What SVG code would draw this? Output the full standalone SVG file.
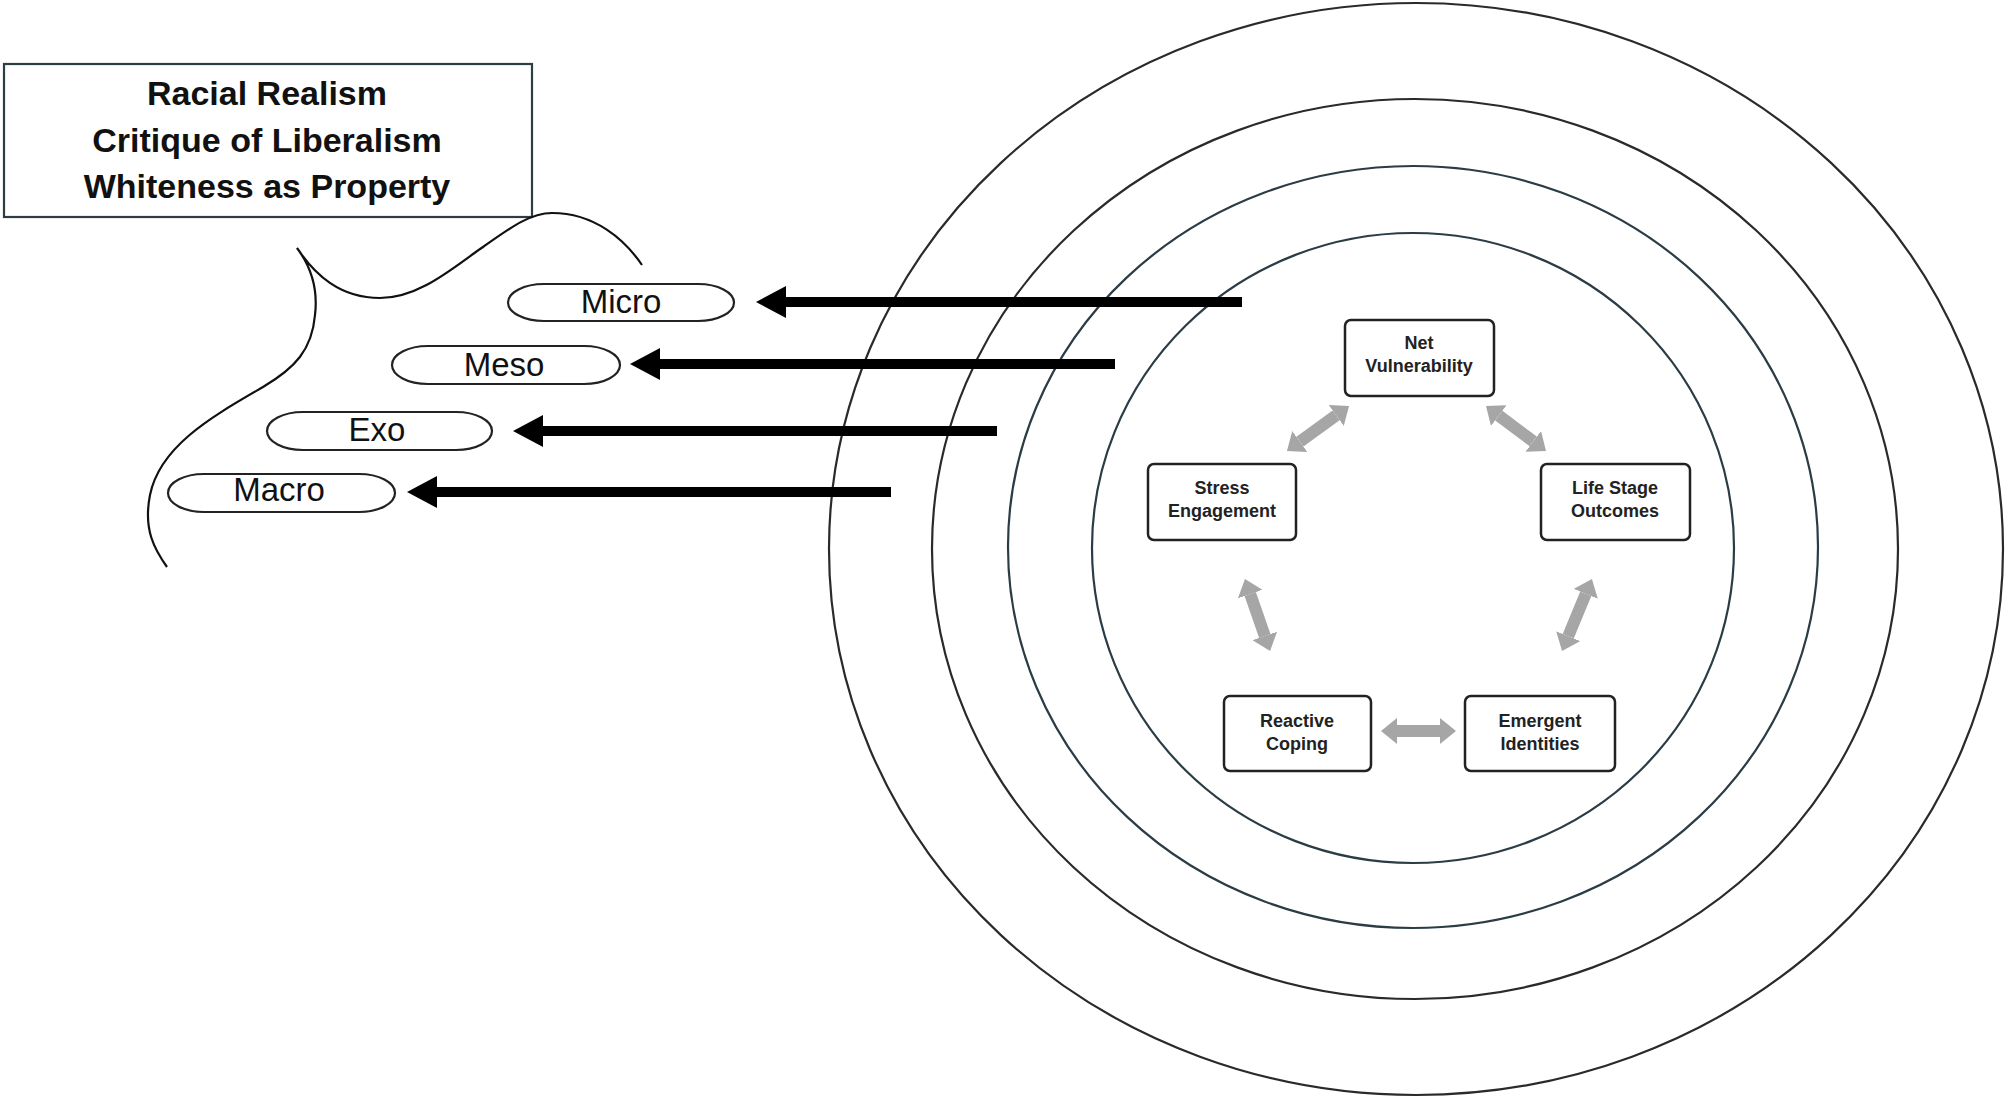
<svg xmlns="http://www.w3.org/2000/svg" width="2008" height="1099" viewBox="0 0 2008 1099">
<style>
.ring{fill:none;stroke:#2a2a2a;stroke-width:2.2}
.ringb{fill:none;stroke:#2b3c45;stroke-width:2.2}
.pill{fill:#fff;stroke:#222;stroke-width:2.2}
.pilltxt{font-family:"Liberation Sans",Arial,sans-serif;font-size:33px;fill:#111;text-anchor:middle}
.title{font-family:"Liberation Sans",Arial,sans-serif;font-size:34px;font-weight:bold;fill:#111;text-anchor:middle}
.node{fill:#fff;stroke:#222;stroke-width:2.5}
.ntxt{font-family:"Liberation Sans",Arial,sans-serif;font-size:18px;font-weight:bold;fill:#222;text-anchor:middle}
.bigarrow{stroke:#000;stroke-width:10;fill:none}
.grayarrow{stroke:#a6a6a6;stroke-width:12;fill:none;marker-start:url(#gh);marker-end:url(#gh)}
</style>
<defs>
<marker id="bh" markerUnits="userSpaceOnUse" viewBox="0 -16 30 32" refX="0" refY="0" markerWidth="30" markerHeight="32" orient="auto">
<path d="M0,-16 L30,0 L0,16 z" fill="#000"/>
</marker>
<marker id="gh" markerUnits="userSpaceOnUse" viewBox="0 -13 16 26" refX="0" refY="0" markerWidth="16" markerHeight="26" orient="auto-start-reverse">
<path d="M0,-13 L16,0 L0,13 z" fill="#a6a6a6"/>
</marker>
</defs>
<rect width="2008" height="1099" fill="#fff"/>

<g id="rings">
<ellipse class="ring" cx="1416" cy="549" rx="587" ry="546"/>
<ellipse class="ring" cx="1415" cy="549" rx="483" ry="450"/>
<ellipse class="ringb" cx="1413" cy="547" rx="405" ry="381"/>
<ellipse class="ringb" cx="1413" cy="548" rx="321" ry="315"/>
</g>

<g id="theory-box">
<rect x="4" y="64" width="528" height="153" fill="#fff" stroke="#2c3e44" stroke-width="2.2"/>
<text class="title" x="267" y="105">Racial Realism</text>
<text class="title" x="267" y="152">Critique of Liberalism</text>
<text class="title" x="267" y="198">Whiteness as Property</text>
</g>

<g id="outline">
<path d="M642,265 C625,240 595,213 552,213 C530,213 510,228 483,247 C455,266 420,298 380,298 C340,298 315,275 297,248 C312,268 318,290 315,315 C312,350 295,368 263,387 C215,415 160,445 150,495 C143,530 155,550 167,567" fill="none" stroke="#111" stroke-width="2.2"/>
</g>

<g id="level-micro">
<rect class="pill" x="508" y="284" width="226" height="37" rx="36" ry="18.5"/>
<text class="pilltxt" x="621" y="313">Micro</text>
</g>
<g id="level-meso">
<rect class="pill" x="392" y="346" width="228" height="38" rx="36" ry="19"/>
<text class="pilltxt" x="504" y="376">Meso</text>
</g>
<g id="level-exo">
<rect class="pill" x="267" y="412" width="225" height="38" rx="36" ry="19"/>
<text class="pilltxt" x="377" y="441">Exo</text>
</g>
<g id="level-macro">
<rect class="pill" x="168" y="474" width="227" height="38" rx="36" ry="19"/>
<text class="pilltxt" x="279" y="501">Macro</text>
</g>

<g id="connectors">
<line class="bigarrow" x1="1242" y1="302" x2="786" y2="302" marker-end="url(#bh)"/>
<line class="bigarrow" x1="1115" y1="364" x2="660" y2="364" marker-end="url(#bh)"/>
<line class="bigarrow" x1="997" y1="431" x2="543" y2="431" marker-end="url(#bh)"/>
<line class="bigarrow" x1="891" y1="492" x2="437" y2="492" marker-end="url(#bh)"/>
<line class="grayarrow" x1="1336.1" y1="415.4" x2="1299.9" y2="441.6"/>
<line class="grayarrow" x1="1498.8" y1="415.6" x2="1533.2" y2="441.4"/>
<line class="grayarrow" x1="1250.2" y1="594.1" x2="1264.8" y2="635.9"/>
<line class="grayarrow" x1="1585.8" y1="593.8" x2="1568.2" y2="636.2"/>
<line class="grayarrow" x1="1397" y1="731" x2="1440" y2="731"/>
</g>

<g id="net-vulnerability">
<rect class="node" x="1345" y="320" width="149" height="76" rx="6"/>
<text class="ntxt" x="1419" y="349">Net</text>
<text class="ntxt" x="1419" y="372">Vulnerability</text>
</g>
<g id="stress-engagement">
<rect class="node" x="1148" y="464" width="148" height="76" rx="6"/>
<text class="ntxt" x="1222" y="494">Stress</text>
<text class="ntxt" x="1222" y="517">Engagement</text>
</g>
<g id="life-stage-outcomes">
<rect class="node" x="1541" y="464" width="149" height="76" rx="6"/>
<text class="ntxt" x="1615" y="494">Life Stage</text>
<text class="ntxt" x="1615" y="517">Outcomes</text>
</g>
<g id="reactive-coping">
<rect class="node" x="1224" y="696" width="147" height="75" rx="6"/>
<text class="ntxt" x="1297" y="727">Reactive</text>
<text class="ntxt" x="1297" y="750">Coping</text>
</g>
<g id="emergent-identities">
<rect class="node" x="1465" y="696" width="150" height="75" rx="6"/>
<text class="ntxt" x="1540" y="727">Emergent</text>
<text class="ntxt" x="1540" y="750">Identities</text>
</g>
</svg>
